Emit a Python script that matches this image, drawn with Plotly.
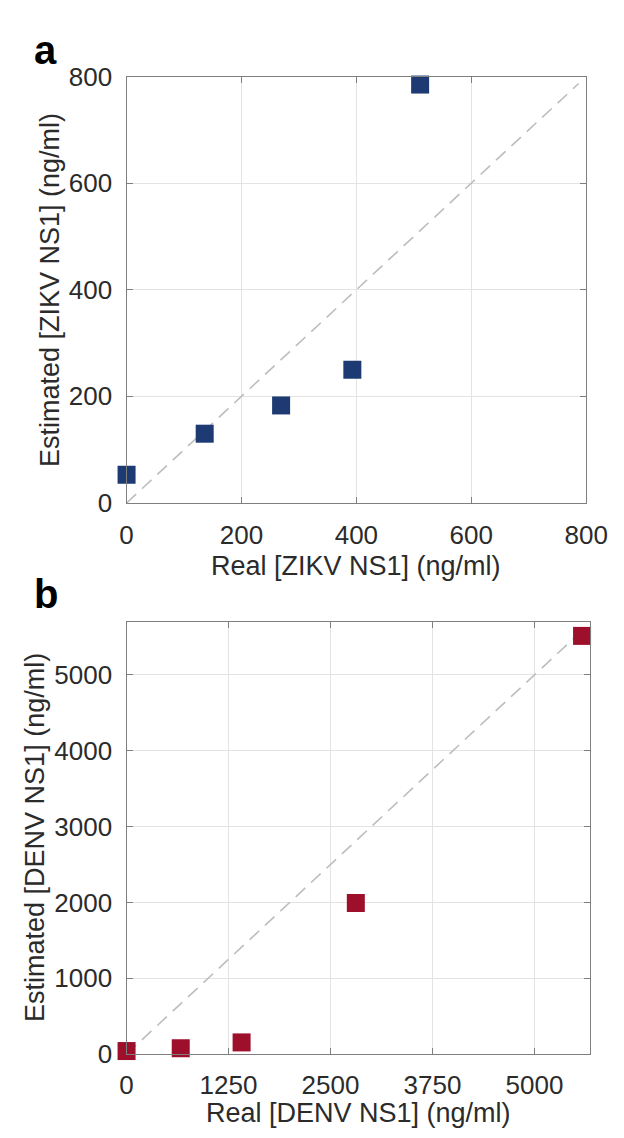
import plotly.graph_objects as go

# Panel a: ZIKV NS1
zikv_real = [0, 136, 269, 393, 511]
zikv_est = [53, 130, 183, 250, 785]
zikv_diag = [0, 787]
zikv_ticks = [0, 200, 400, 600, 800]

# Panel b: DENV NS1
denv_real = [0, 664, 1410, 2810, 5583]
denv_est = [40, 77, 154, 1992, 5514]
denv_diag = [0, 5500]
denv_xticks = [0, 1250, 2500, 3750, 5000]
denv_yticks = [0, 1000, 2000, 3000, 4000, 5000]

W, H = 624, 1138
FONT = "Liberation Sans, Arial, Helvetica, sans-serif"
TICKC = "#2b2b2b"
AXC = "#7f7f7f"
GRIDC = "#e3e3e3"

fig = go.Figure()

fig.add_trace(go.Scatter(x=zikv_diag, y=zikv_diag, mode="lines",
                         line=dict(color="#bdbdbd", width=1.6, dash="13px,8px"),
                         xaxis="x", yaxis="y", showlegend=False, hoverinfo="skip"))
fig.add_trace(go.Scatter(x=zikv_real, y=zikv_est, mode="markers",
                         marker=dict(symbol="square", size=18, color="#1d3a72"),
                         xaxis="x", yaxis="y", showlegend=False, cliponaxis=False))
fig.add_trace(go.Scatter(x=denv_diag, y=denv_diag, mode="lines",
                         line=dict(color="#bdbdbd", width=1.6, dash="13px,8px"),
                         xaxis="x2", yaxis="y2", showlegend=False, hoverinfo="skip"))
fig.add_trace(go.Scatter(x=denv_real, y=denv_est, mode="markers",
                         marker=dict(symbol="square", size=18, color="#9e0f2b"),
                         xaxis="x2", yaxis="y2", showlegend=False, cliponaxis=False))

def px_x(p):
    return p / W

def px_y(p):
    return 1 - p / H

axis_common = dict(showline=True, linecolor=AXC, linewidth=1.3, mirror="ticks",
                   ticks="inside", ticklen=6, tickcolor=AXC, tickwidth=1.2,
                   showgrid=True, gridcolor=GRIDC, gridwidth=1, zeroline=False,
                   tickfont=dict(family=FONT, size=26, color=TICKC))

a_dom_x = [px_x(117), px_x(599)]
a_dom_y = [px_y(493), px_y(55)]
b_dom_x = [px_x(117), px_x(603)]
b_dom_y = [px_y(1059), px_y(615)]

fig.update_layout(
    width=W, height=H,
    margin=dict(l=0, r=0, t=0, b=0),
    paper_bgcolor="white", plot_bgcolor="white",
    xaxis=dict(domain=a_dom_x, range=[0, 800], tickvals=zikv_ticks,
               anchor="y", ticklabelstandoff=9, **axis_common),
    yaxis=dict(domain=a_dom_y, range=[0, 800], tickvals=zikv_ticks,
               anchor="x", ticklabelstandoff=8, **axis_common),
    xaxis2=dict(domain=b_dom_x, range=[0, 5680], tickvals=denv_xticks,
                anchor="y2", ticklabelstandoff=8, **axis_common),
    yaxis2=dict(domain=b_dom_y, range=[0, 5700], tickvals=denv_yticks,
                anchor="x2", ticklabelstandoff=8, **axis_common),
)

title_font = dict(family=FONT, size=27, color=TICKC)
ann = [
    dict(text="Real [ZIKV NS1] (ng/ml)", x=(a_dom_x[0] + a_dom_x[1]) / 2, y=px_y(558),
         xref="paper", yref="paper", showarrow=False, font=title_font,
         xanchor="center", yanchor="middle"),
    dict(text="Estimated [ZIKV NS1] (ng/ml)", x=px_x(36), y=(a_dom_y[0] + a_dom_y[1]) / 2,
         xref="paper", yref="paper", showarrow=False, font=title_font, textangle=-90,
         xanchor="center", yanchor="middle"),
    dict(text="Real [DENV NS1] (ng/ml)", x=(b_dom_x[0] + b_dom_x[1]) / 2, y=px_y(1120),
         xref="paper", yref="paper", showarrow=False, font=title_font,
         xanchor="center", yanchor="middle"),
    dict(text="Estimated [DENV NS1] (ng/ml)", x=px_x(21), y=(b_dom_y[0] + b_dom_y[1]) / 2,
         xref="paper", yref="paper", showarrow=False, font=title_font, textangle=-90,
         xanchor="center", yanchor="middle"),
    dict(text="<b>a</b>", x=px_x(18), y=px_y(28), xref="paper", yref="paper",
         showarrow=False, font=dict(family=FONT, size=40, color="black"),
         xanchor="left", yanchor="middle"),
    dict(text="<b>b</b>", x=px_x(18), y=px_y(586), xref="paper", yref="paper",
         showarrow=False, font=dict(family=FONT, size=40, color="black"),
         xanchor="left", yanchor="middle"),
]
fig.update_layout(annotations=ann)

fig.write_html("out.html")
